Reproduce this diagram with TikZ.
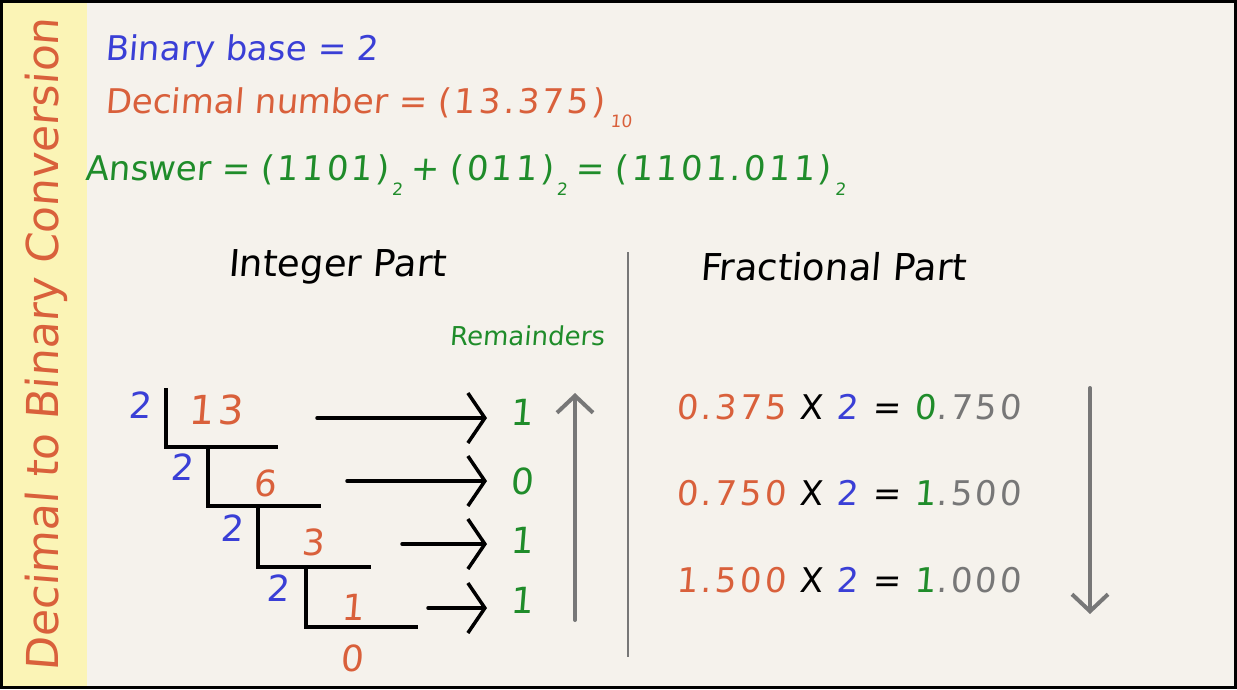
\documentclass[tikz,border=0pt]{standalone}
\usepackage{fontspec}
\setmainfont{DejaVu Sans}[FakeSlant=0.08]
\newfontfamily\numfont{DejaVu Sans}[FakeSlant=0.08, LetterSpace=9]
\usetikzlibrary{arrows.meta}
\definecolor{bgc}{HTML}{F5F2EC}
\definecolor{yelc}{HTML}{FBF4B6}
\definecolor{bluec}{HTML}{3A3FD6}
\definecolor{orangec}{HTML}{D9603B}
\definecolor{greenc}{HTML}{1F8C2A}
\definecolor{grayc}{HTML}{777777}
\newcommand\mysub[1]{\raisebox{-0.42em}{\fontsize{17}{17}\selectfont #1}}
\tikzset{
  txt/.style={inner sep=0pt, font=\fontsize{34}{40}\selectfont},
  head/.style={inner sep=0pt, font=\fontsize{37}{42}\selectfont},
  big/.style={inner sep=0pt, font=\fontsize{36}{40}\selectfont},
  frac/.style={inner sep=0pt, anchor=west, font=\fontsize{34}{40}\numfont},
  divl/.style={line width=3.5pt, black},
  remarrow/.style={line width=3.5pt, black, line cap=round, -{Straight Barb[length=17pt,width=50pt,line width=3.5pt]}},
  grayarrow/.style={line width=4pt, grayc, line cap=round, -{Straight Barb[length=17pt,width=36pt,line width=4pt]}},
}
\begin{document}
\begin{tikzpicture}[x=1pt,y=-1pt]
\useasboundingbox (0,0) rectangle (1237,689);
\fill[bgc] (0,0) rectangle (1237,689);
\fill[yelc] (0,0) rectangle (87,689);
\draw[line width=3pt] (1.5,1.5) rectangle (1235.5,687.5);

\node[big, rotate=90, text=orangec, font=\fontsize{44}{48}\selectfont] (title) at (46,345) {Decimal to Binary Conversion};

\node[txt, anchor=west, text=bluec] (base) at (105,51) {Binary base = 2};
\node[txt, anchor=west, text=orangec] (dec) at (105,108) {Decimal number = {\numfont (13.375)}\hspace{6pt}\mysub{10}};
\node[txt, anchor=west, text=greenc] (ans) at (85,175) {Answer = {\numfont (1101)}\hspace{3pt}\mysub{2}\hspace{8pt}+ {\numfont (011)}\hspace{3pt}\mysub{2}\hspace{8pt}= {\numfont (1101.011)}\hspace{4pt}\mysub{2}};

\node[head] (intp) at (337,267) {Integer Part};
\node[head] (fracp) at (833,267) {Fractional Part};
\node[inner sep=0pt, text=greenc, font=\fontsize{26}{30}\selectfont] (remh) at (527,336) {Remainders};

\draw[grayc, line width=2.5pt] (628,252) -- (628,657);

% division ladder
\draw[divl] (166,388) -- (166,447) -- (278,447);
\draw[divl] (208,447) -- (208,506) -- (321,506);
\draw[divl] (258,506) -- (258,567) -- (371,567);
\draw[divl] (306,567) -- (306,627) -- (418,627);

\node[big, text=bluec] (d1) at (140,405) {2};
\node[big, text=orangec, font=\fontsize{40}{44}\numfont] (q1) at (216,410) {13};
\node[big, text=bluec] (d2) at (182,467) {2};
\node[big, text=orangec] (q2) at (265,483) {6};
\node[big, text=bluec] (d3) at (232,528) {2};
\node[big, text=orangec] (q3) at (313,542) {3};
\node[big, text=bluec] (d4) at (278,588) {2};
\node[big, text=orangec] (q4) at (353,607) {1};
\node[big, text=orangec] (q5) at (352,658) {0};

\node[big, text=greenc] (r1) at (522,412) {1};
\node[big, text=greenc] (r2) at (522,481) {0};
\node[big, text=greenc] (r3) at (522,540) {1};
\node[big, text=greenc] (r4) at (522,600) {1};

\coordinate (s1) at (317,418);
\coordinate (s2) at (347,481);
\coordinate (s3) at (402,544);
\coordinate (s4) at (428,608);
\coordinate (e1) at (487,418);
\coordinate (e2) at (487,481);
\coordinate (e3) at (487,544);
\coordinate (e4) at (487,608);
\draw[remarrow] (s1) -- (e1);
\draw[remarrow] (s2) -- (e2);
\draw[remarrow] (s3) -- (e3);
\draw[remarrow] (s4) -- (e4);

\coordinate (ua) at (575,620);
\coordinate (ub) at (575,393);
\draw[grayarrow] (ua) -- (ub);

% fractional part
\node[frac] (f1) at (676,407) {\textcolor{orangec}{0.375} X \textcolor{bluec}{2} = \textcolor{greenc}{0}\textcolor{grayc}{.750}};
\node[frac] (f2) at (676,493) {\textcolor{orangec}{0.750} X \textcolor{bluec}{2} = \textcolor{greenc}{1}\textcolor{grayc}{.500}};
\node[frac] (f3) at (676,580) {\textcolor{orangec}{1.500} X \textcolor{bluec}{2} = \textcolor{greenc}{1}\textcolor{grayc}{.000}};

\coordinate (da) at (1090,388);
\coordinate (db) at (1090,614);
\draw[grayarrow] (da) -- (db);
\end{tikzpicture}
\end{document}
